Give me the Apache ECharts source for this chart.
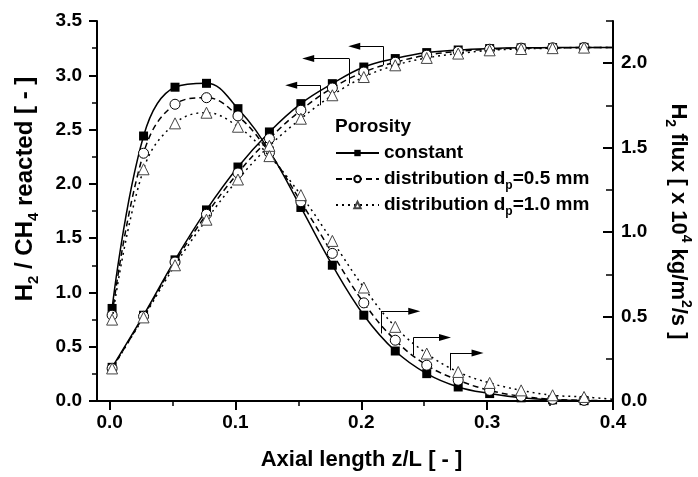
<!DOCTYPE html>
<html><head><meta charset="utf-8">
<script src="https://cdn.jsdelivr.net/npm/echarts@6/dist/echarts.min.js"></script>
<style>html,body{margin:0;padding:0;background:#fff}#c{width:698px;height:477px}</style>
</head><body><div id="c"></div>
<script>
// ---------- data ----------
const zL = [0.002, 0.027, 0.052, 0.077, 0.102, 0.127, 0.152, 0.177, 0.202, 0.227, 0.252, 0.277, 0.302, 0.327, 0.352, 0.377, 0.4];

// H2 / CH4 reacted (left axis)
const reactedConstant = [0.31, 0.79, 1.30, 1.76, 2.155, 2.478, 2.739, 2.923, 3.076, 3.154, 3.209, 3.233, 3.246, 3.253, 3.255, 3.257, 3.257];
const reactedDp05     = [0.30, 0.78, 1.28, 1.72, 2.10, 2.417, 2.678, 2.883, 3.03, 3.12, 3.185, 3.22, 3.24, 3.25, 3.253, 3.256, 3.257];
const reactedDp10     = [0.30, 0.77, 1.25, 1.67, 2.04, 2.35, 2.60, 2.816, 2.984, 3.092, 3.16, 3.20, 3.23, 3.242, 3.25, 3.255, 3.257];

// H2 flux x10^4 kg/m2/s (right axis)
const fluxConstant = [0.548, 1.569, 1.858, 1.881, 1.731, 1.48, 1.146, 0.804, 0.508, 0.296, 0.162, 0.083, 0.044, 0.019, 0.007, 0.002, 0.0];
const fluxDp05     = [0.508, 1.467, 1.757, 1.796, 1.688, 1.47, 1.18, 0.874, 0.581, 0.36, 0.212, 0.123, 0.063, 0.028, 0.010, 0.004, 0.001];
const fluxDp10     = [0.482, 1.372, 1.644, 1.707, 1.624, 1.45, 1.219, 0.948, 0.672, 0.439, 0.281, 0.172, 0.107, 0.063, 0.034, 0.024, 0.010];

// ticks / labels
const xTickLabels = [0, 0.1, 0.2, 0.3, 0.4];
const xMinorTicks = [0.05, 0.15, 0.25, 0.35];
const rightTickLabels = [0, 0.5, 1.0, 1.5, 2.0];
const rightMinorTicks = [0.25, 0.75, 1.25, 1.75, 2.25];

// annotation arrows (data coordinates)
const leftArrowHeads   = [[0.1944, 3.267], [0.1578, 3.154], [0.1443, 2.908]];
const leftArrowCorners = [[0.2174, 3.267], [0.1904, 3.154], [0.1673, 2.908]];
const leftArrowFeet    = [[0.2174, 3.093], [0.1904, 2.926], [0.1673, 2.724]];
const rightArrowHeads   = [[0.2421, 0.532], [0.2665, 0.376], [0.2924, 0.2845]];
const rightArrowCorners = [[0.2156, 0.532], [0.2415, 0.376], [0.2707, 0.2845]];
const rightArrowFeet    = [[0.2156, 0.400], [0.2415, 0.271], [0.2707, 0.182]];

const legendNames = ['constant', 'distribution dp=0.5 mm', 'distribution dp=1.0 mm'];

// ---------- chart ----------
const FF = '"Liberation Sans", Arial, sans-serif';
const chart = echarts.init(document.getElementById('c'), null, {renderer: 'canvas'});

function pts(ys) {
  return zL.map((x, i) => i === zL.length - 1 ? {value: [x, ys[i]], symbol: 'none'} : [x, ys[i]]);
}

const styles = [
  {symbol: 'rect', symbolSize: 9, item: {color: '#000'}, line: {color: '#000', width: 1.5, type: 'solid'}},
  {symbol: 'circle', symbolSize: 10, item: {color: '#fff', borderColor: '#000', borderWidth: 1}, line: {color: '#000', width: 1.5, type: [6, 4]}},
  {symbol: 'triangle', symbolSize: 11, item: {color: '#fff', borderColor: '#444', borderWidth: 1}, line: {color: '#000', width: 1.5, type: [2, 4]}}
];
const reacted = [reactedConstant, reactedDp05, reactedDp10];
const flux = [fluxConstant, fluxDp05, fluxDp10];

function mlines(starts, ends, arrow) {
  return {
    silent: true, animation: false,
    symbol: arrow ? ['none', 'triangle'] : ['none', 'none'],
    symbolSize: [7, 12],
    label: {show: false},
    emphasis: {disabled: true},
    lineStyle: {color: '#000', width: 1, type: 'solid'},
    itemStyle: {color: '#000'},
    data: starts.map((s, i) => [{coord: s}, {coord: ends[i]}])
  };
}

const series = [];
for (let k = 0; k < 3; k++) {
  const st = styles[k];
  const base = {
    name: legendNames[k], type: 'line', xAxisIndex: 0, smooth: 0.4,
    symbol: st.symbol, symbolSize: st.symbolSize, showAllSymbol: true,
    lineStyle: st.line, itemStyle: st.item, animation: false, silent: true,
    emphasis: {disabled: true}, z: 2 + k
  };
  const s1 = Object.assign({}, base, {yAxisIndex: 0, data: pts(reacted[k])});
  const s2 = Object.assign({}, base, {yAxisIndex: 1, data: pts(flux[k])});
  if (k === 0) { s1.markLine = mlines(leftArrowCorners, leftArrowHeads, true); s2.markLine = mlines(rightArrowCorners, rightArrowHeads, true); }
  if (k === 1) { s1.markLine = mlines(leftArrowFeet, leftArrowCorners, false); s2.markLine = mlines(rightArrowFeet, rightArrowCorners, false); }
  series.push(s1, s2);
}

const tickLbl = {color: '#000', fontSize: 19, fontWeight: 'bold', fontFamily: FF, formatter: v => Number(v).toFixed(1)};
const axLine = {show: true, onZero: false, lineStyle: {color: '#000', width: 2}};
const noLine = {show: false, onZero: false};
const mL = {fontSize: 24, fontWeight: 'bold', fontFamily: FF, color: '#000', lineHeight: 32};
const subL = {fontSize: 15, fontWeight: 'bold', fontFamily: FF, color: '#000', lineHeight: 4, verticalAlign: 'bottom'};
const m = {fontSize: 22, fontWeight: 'bold', fontFamily: FF, color: '#000', lineHeight: 30};
const sub = {fontSize: 14, fontWeight: 'bold', fontFamily: FF, color: '#000', lineHeight: 4, verticalAlign: 'bottom'};
const sup = {fontSize: 14, fontWeight: 'bold', fontFamily: FF, color: '#000', lineHeight: 4, verticalAlign: 'top'};
const gridBox = {left: 97, right: 85, top: 21, bottom: 76, containLabel: false, outerBoundsMode: 'none', show: false};

chart.setOption({
  backgroundColor: '#fff',
  animation: false,
  grid: [Object.assign({}, gridBox), Object.assign({}, gridBox)],
  title: {text: 'Porosity', left: 335, top: 117, padding: 0,
    textStyle: {fontSize: 19, fontWeight: 'bold', color: '#000', fontFamily: FF}},
  legend: {
    data: legendNames, orient: 'vertical', left: 335, top: 140, padding: 0,
    itemWidth: 43, itemHeight: 8, itemGap: 0, selectedMode: false,
    textStyle: {fontSize: 19, fontWeight: 'bold', color: '#000', fontFamily: FF, lineHeight: 26,
      rich: {
        m: {fontSize: 19, fontWeight: 'bold', color: '#000', fontFamily: FF, lineHeight: 26},
        s: {fontSize: 12, fontWeight: 'bold', color: '#000', fontFamily: FF, lineHeight: 2, verticalAlign: 'bottom'}
      }},
    formatter: function (n) {
      if (n === legendNames[1]) return '{m|distribution d}{s|p}{m|=0.5 mm}';
      if (n === legendNames[2]) return '{m|distribution d}{s|p}{m|=1.0 mm}';
      return n;
    }
  },
  xAxis: [
    {type: 'value', gridIndex: 0, position: 'bottom', min: -0.01, max: 0.4,
      axisLine: axLine,
      axisTick: {show: true, length: 9, customValues: xTickLabels, lineStyle: {color: '#000', width: 2}},
      axisLabel: Object.assign({margin: 12, customValues: xTickLabels}, tickLbl),
      splitLine: {show: false},
      name: 'Axial length z/L [ - ]', nameLocation: 'middle', nameGap: 47, nameMoveOverlap: false,
      nameTextStyle: {fontSize: 22, fontWeight: 'bold', color: '#000', fontFamily: FF, lineHeight: 24, padding: [0, 0, 0, 13]}
    },
    {type: 'value', gridIndex: 1, position: 'bottom', min: -0.01, max: 0.4,
      axisLine: noLine,
      axisTick: {show: true, length: 5, customValues: xMinorTicks, lineStyle: {color: '#000', width: 1.5}},
      axisLabel: {show: false}, splitLine: {show: false}
    }
  ],
  yAxis: [
    {type: 'value', gridIndex: 0, position: 'left', min: 0, max: 3.5, interval: 0.5,
      axisLine: axLine,
      axisTick: {show: true, length: 8, inside: false, lineStyle: {color: '#000', width: 2}},
      minorTick: {show: true, splitNumber: 2, length: 5, lineStyle: {color: '#000', width: 1.5}},
      axisLabel: Object.assign({margin: 15}, tickLbl),
      splitLine: {show: false}, minorSplitLine: {show: false},
      name: '{m|H}{s|2}{m| / CH}{s|4}{m| reacted [ - ]}',
      nameLocation: 'middle', nameRotate: 90, nameGap: 56, nameMoveOverlap: false,
      nameTextStyle: {padding: [0, 0, 0, 44], rich: {m: mL, s: subL}}
    },
    {type: 'value', gridIndex: 0, position: 'right', min: 0, max: 2.25,
      axisLine: axLine,
      axisTick: {show: true, inside: true, length: 10, customValues: rightTickLabels, lineStyle: {color: '#000', width: 2}},
      axisLabel: Object.assign({margin: 8, customValues: rightTickLabels}, tickLbl),
      splitLine: {show: false},
      name: '{m|H}{s|2}{m| flux [ x 10}{u|4}{m| kg/m}{u|2}{m|/s ]}',
      nameLocation: 'middle', nameRotate: -90, nameGap: 50, nameMoveOverlap: false,
      nameTextStyle: {padding: [0, 0, 0, 21], rich: {m: m, s: sub, u: sup}}
    },
    {type: 'value', gridIndex: 1, position: 'right', min: 0, max: 2.25,
      axisLine: noLine,
      axisTick: {show: true, inside: true, length: 7, customValues: rightMinorTicks, lineStyle: {color: '#000', width: 1.5}},
      axisLabel: {show: false}, splitLine: {show: false}
    }
  ],
  series: series
});
</script>
</body></html>
